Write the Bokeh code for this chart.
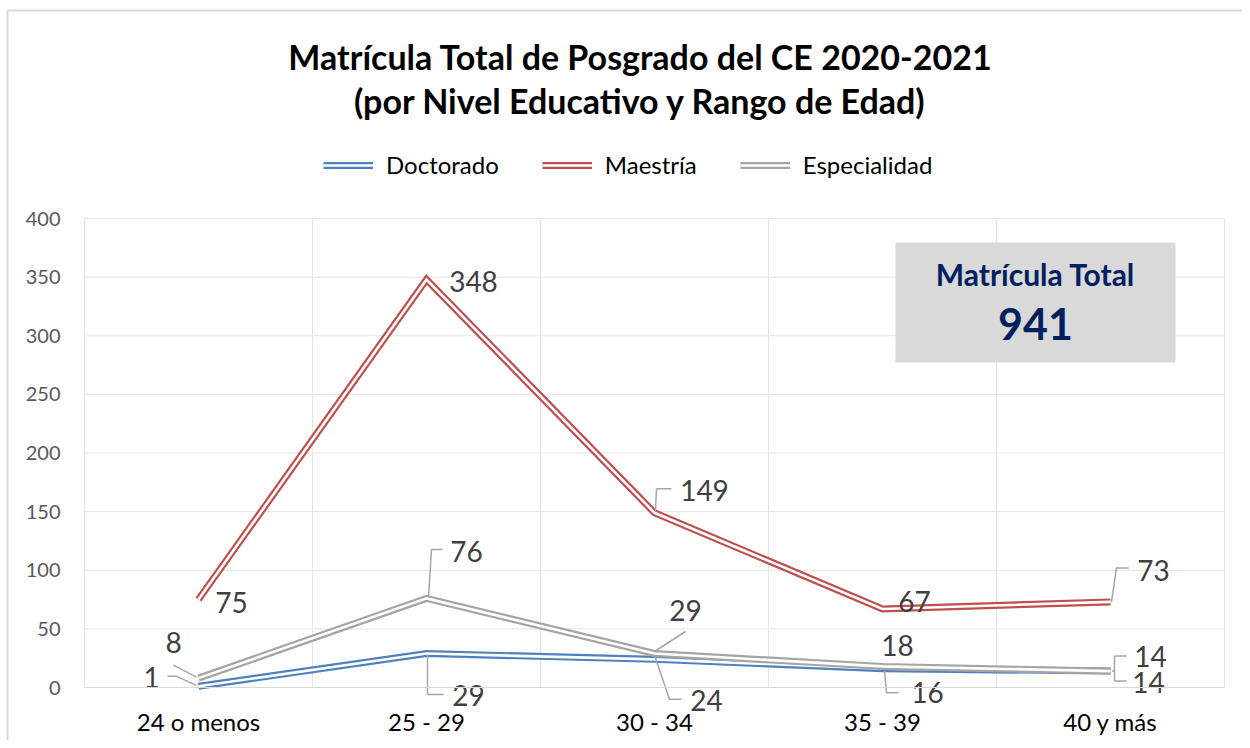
from bokeh.plotting import figure
from bokeh.models import (Range1d, FixedTicker, Legend, LegendItem,
                          BoxAnnotation, Label)
from bokeh.core.properties import value
from bokeh.embed import file_html
from bokeh.resources import INLINE

# ---------------- data ----------------
categories = ["24 o menos", "25 - 29", "30 - 34", "35 - 39", "40 y más"]
doctorado = [1, 29, 24, 16, 14]
maestria = [75, 348, 149, 67, 73]
especialidad = [8, 76, 29, 18, 14]
series_names = ["Doctorado", "Maestría", "Especialidad"]
y_ticks = [0, 50, 100, 150, 200, 250, 300, 350, 400]
title_lines = ["Matrícula Total de Posgrado del CE 2020-2021",
               "(por Nivel Educativo y Rango de Edad)"]
total_caption = "Matrícula Total"
total_value = sum(doctorado) + sum(maestria) + sum(especialidad)

# ---------------- layout / style ----------------
W, H = 1242, 740
PL, PR, PT, PB = 84, 1224, 218, 687     # plot-area edges (canvas px)
NX = len(categories)
YMAX = y_ticks[-1]
ux = NX / (PR - PL)                     # data units per px (x)
uy = YMAX / (PB - PT)                   # data units per px (y)
FONT = "Lato"
colors = ["#4F81BD", "#C0504D", "#A5A5A5"]


def X(px):
    return (px - PL) * ux


def Y(py):
    return (PB - py) * uy


# label offsets (px, screen: +y down) and leader polylines (px offsets)
label_off = [
    [(-47, -9), (42, 42), (52, 41), (45, 24), (38, 11)],
    [(33, 3), (47, 2), (50, -22), (32, -7), (43, -31)],
    [(-25, -36), (40, -47), (31, -43), (15, -21), (40, -15)],
]
leaders = [
    [[(-31, -10), (-22, -10), (-2, -1)], [(1, 1), (1, 41), (17, 41)],
     [(0, -4), (15, 40), (27, 40)], [(2, 2), (4, 24), (16, 24)],
     [(2, 0), (4, 0), (4, 10), (16, 10)]],
    [None, None, [(1, -2), (2, -24), (17, -24)], None,
     [(1, 0), (6, -34), (18, -34)]],
    [[(-25, -13), (-2, -1)], [(2, -1), (5, -49), (16, -49)],
     [(0, -2), (31, -22)], None,
     [(2, 0), (4, 0), (4, -15), (16, -15)]],
]

p = figure(width=W, height=H, output_backend="svg", toolbar_location=None,
           x_range=Range1d(X(0), X(W)), y_range=Range1d(Y(H), Y(0)),
           min_border_left=0, min_border_right=0, min_border_top=0,
           min_border_bottom=0, title_location=None,
           background_fill_color="white", border_fill_color="white")
p.outline_line_color = None

xs = [i + 0.5 for i in range(NX)]
grid_x = list(range(NX + 1))

# axes (placed inside the frame at the value-0 / category-0 positions)
p.xaxis.fixed_location = 0
p.xaxis.bounds = (0, NX)
p.xaxis.ticker = FixedTicker(ticks=xs)
p.xaxis.major_label_overrides = {x: c for x, c in zip(xs, categories)}
p.xaxis.major_label_text_font = FONT
p.xaxis.major_label_text_font_size = "24px"
p.xaxis.major_label_text_color = "#000000"
p.xaxis.major_label_standoff = 19
p.xaxis.major_tick_out = 0
p.xaxis.major_tick_in = 0
p.xaxis.axis_line_color = "#d9d9d9"
p.xaxis.major_tick_line_color = None
p.xaxis.minor_tick_line_color = None

p.yaxis.fixed_location = 0
p.yaxis.bounds = (0, YMAX)
p.yaxis.ticker = FixedTicker(ticks=y_ticks)
p.yaxis.major_label_text_font = FONT
p.yaxis.major_label_text_font_size = "20px"
p.yaxis.major_label_text_color = "#595959"
p.yaxis.major_label_standoff = 24
p.yaxis.major_tick_out = 0
p.yaxis.major_tick_in = 0
p.yaxis.axis_line_color = None
p.yaxis.major_tick_line_color = None
p.yaxis.minor_tick_line_color = None

p.xgrid.visible = False
p.ygrid.visible = False
GRID = "#e4e4e4"
p.segment(x0=grid_x, y0=[0] * len(grid_x), x1=grid_x, y1=[YMAX] * len(grid_x),
          line_color=GRID, line_width=1, level="underlay")
p.segment(x0=[0] * len(y_ticks), y0=y_ticks, x1=[NX] * len(y_ticks), y1=y_ticks,
          line_color=GRID, line_width=1, level="underlay")

# chart-area border (left and top edges visible in the reference)
p.segment(x0=[X(7), X(7)], y0=[Y(10), Y(10)], x1=[X(7), X(W)], y1=[Y(H), Y(10)],
          line_color="#d9d9d9", line_width=2)

# total box
p.add_layout(BoxAnnotation(left=X(895), right=X(1175), top=Y(242), bottom=Y(362),
                           fill_color="#d9d9d9", fill_alpha=1.0,
                           line_color=None, level="underlay"))
cx = X(1035)
p.add_layout(Label(x=cx, y=Y(273), text=total_caption,
                   text_font=FONT, text_font_size="30px",
                   text_font_style="bold", text_color="#002060",
                   text_align="center", text_baseline="middle"))
p.add_layout(Label(x=cx, y=Y(323), text=str(total_value),
                   text_font=FONT, text_font_size="43px",
                   text_font_style="bold", text_color="#002060",
                   text_align="center", text_baseline="middle"))

# series (double lines)
items = []
all_vals = [doctorado, maestria, especialidad]
for name, vals, col in zip(series_names, all_vals, colors):
    r1 = p.line(xs, vals, line_color=col, line_width=7, line_join="miter")
    r2 = p.line(xs, vals, line_color="white", line_width=2.6, line_join="miter")
    items.append(LegendItem(label=name, renderers=[r1, r2]))

# leader lines
lx, ly = [], []
for vals, lead in zip(all_vals, leaders):
    for x, v, pts in zip(xs, vals, lead):
        if pts is None:
            continue
        lx.append([x + dx * ux for dx, dy in pts])
        ly.append([v - dy * uy for dx, dy in pts])
p.multi_line(lx, ly, line_color="#a6a6a6", line_width=1.5)

# data labels
for vals, offs in zip(all_vals, label_off):
    p.text(x=xs, y=vals, text=[str(v) for v in vals],
           x_offset=[o[0] for o in offs], y_offset=[o[1] for o in offs],
           text_font=value(FONT), text_font_size="28px", text_color="#404040",
           text_align="center", text_baseline="middle")

# titles
tx = X(640)
p.add_layout(Label(x=tx, y=Y(56), text=title_lines[0], text_font=FONT,
                   text_font_size="34px", text_font_style="bold",
                   text_color="#000000", text_align="center",
                   text_baseline="middle"))
p.add_layout(Label(x=tx, y=Y(100), text=title_lines[1], text_font=FONT,
                   text_font_size="34px", text_font_style="bold",
                   text_color="#000000", text_align="center",
                   text_baseline="middle"))

# legend
legend = Legend(items=items, orientation="horizontal",
                location=(323, H - 179),
                glyph_width=50, glyph_height=20, label_standoff=13,
                spacing=43, padding=0, margin=0,
                label_text_font=FONT, label_text_font_size="24px",
                label_text_color="#000000", border_line_color=None,
                background_fill_alpha=0)
p.add_layout(legend, "center")

open("out.html", "w").write(file_html(p, INLINE))
